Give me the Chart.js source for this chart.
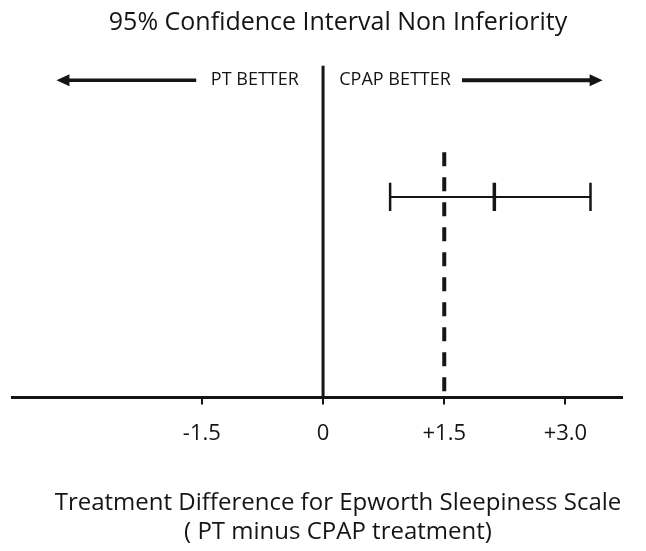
<!DOCTYPE html>
<html>
<head>
<meta charset="utf-8">
<script src="https://cdn.jsdelivr.net/npm/chart.js@4/dist/chart.umd.min.js"></script>
<style>
  html, body { margin: 0; padding: 0; background: #fff; }
  #wrap { width: 646px; height: 551px; }
</style>
</head>
<body>
<div id="wrap"><canvas id="ci"></canvas></div>
<script>
// values on the treatment difference axis
const tickValues = [-1.5, 0, 1.5, 3.0];
const tickLabels = ['-1.5', '0', '+1.5', '+3.0'];
const margin = 1.5;            // non inferiority margin (dashed)
const ciLow = 0.83;
const ciPoint = 2.12;
const ciHigh = 3.31;
const xMin = -3.85, xMax = 3.7;
// arrows: [from, to] along x
const leftArrow = [-1.57, -3.3];
const rightArrow = [1.72, 3.46];
const sideLabels = ['PT BETTER', 'CPAP BETTER'];
const sideLabelAt = [-0.30, 0.20];
const chartTitle = '95% Confidence Interval Non Inferiority';
const axisTitle = ['Treatment Difference for Epworth Sleepiness Scale', '( PT minus CPAP treatment)'];

const FONT = "'Open Sans', 'Noto Sans', sans-serif";
const INK = '#151515';

function vline(x, y0, y1) { return [{x: x, y: y1}, {x: x, y: y0}]; }

const arrowPlugin = {
    id: 'arrows',
    afterDatasetsDraw(chart) {
        const ctx = chart.ctx;
        const sx = chart.scales.x, sy = chart.scales.y;
        const y = sy.getPixelForValue(9.0);
        ctx.save();
        ctx.strokeStyle = INK; ctx.fillStyle = INK;
        [[leftArrow, 3.5], [rightArrow, 4]].forEach(([a, w]) => {
            const x0 = sx.getPixelForValue(a[0]);
            const x1 = sx.getPixelForValue(a[1]);
            const dir = x1 > x0 ? 1 : -1;
            ctx.lineWidth = w;
            ctx.beginPath();
            ctx.moveTo(x0, y);
            ctx.lineTo(x1 - dir * 10, y);
            ctx.stroke();
            ctx.beginPath();
            ctx.moveTo(x1, y);
            ctx.lineTo(x1 - dir * 13, y - 6);
            ctx.lineTo(x1 - dir * 13, y + 6);
            ctx.closePath();
            ctx.fill();
        });
        ctx.font = '18px ' + FONT;
        ctx.textBaseline = 'middle';
        ctx.textAlign = 'right';
        ctx.fillText(sideLabels[0], sx.getPixelForValue(sideLabelAt[0]), y);
        ctx.textAlign = 'left';
        ctx.fillText(sideLabels[1], sx.getPixelForValue(sideLabelAt[1]), y);

        // titles sit a little right of the plot centre in the original
        ctx.textAlign = 'center';
        ctx.font = '25px ' + FONT;
        ctx.fillText(chartTitle, 338, 23);
        ctx.font = '24px ' + FONT;
        ctx.fillText(axisTitle[0], 338, 503);
        ctx.fillText(axisTitle[1], 338, 532);
        ctx.restore();
    }
};

const yCI = 5.69, capH = 0.4;

new Chart(document.getElementById('ci'), {
    type: 'scatter',
    data: {
        datasets: [
            { data: vline(0, 0, 9.41), borderWidth: 3 },
            { data: vline(margin, 0, 6.96), borderWidth: 4, borderDash: [14, 11] },
            { data: [{x: ciLow, y: yCI}, {x: ciHigh, y: yCI}], borderWidth: 2 },
            { data: vline(ciLow, yCI - capH, yCI + capH), borderWidth: 2.5 },
            { data: vline(ciHigh, yCI - capH, yCI + capH), borderWidth: 2.5 },
            { data: vline(ciPoint, yCI - capH, yCI + capH), borderWidth: 3.5 }
        ].map(d => Object.assign({ showLine: true, pointRadius: 0, borderColor: INK, fill: false, tension: 0 }, d))
    },
    options: {
        responsive: true,
        maintainAspectRatio: false,
        animation: false,
        layout: { padding: { left: 12, right: 24, top: 45, bottom: 88 } },
        plugins: {
            legend: { display: false },
            tooltip: { enabled: false },
            title: { display: false }
        },
        scales: {
            x: {
                type: 'linear',
                min: xMin, max: xMax,
                afterBuildTicks: s => { s.ticks = tickValues.map(v => ({ value: v })); },
                border: { display: true, color: INK, width: 3 },
                grid: { drawOnChartArea: false, drawTicks: true, tickLength: 7, color: INK, lineWidth: 2 },
                ticks: {
                    color: INK,
                    padding: 16,
                    font: { family: FONT, size: 22, lineHeight: 1.2 },
                    callback: (v) => { const i = tickValues.indexOf(v); return i >= 0 ? tickLabels[i] : ''; }
                },
                title: { display: false }
            },
            y: { display: false, min: 0, max: 10 }
        }
    },
    plugins: [arrowPlugin]
});
</script>
</body>
</html>
